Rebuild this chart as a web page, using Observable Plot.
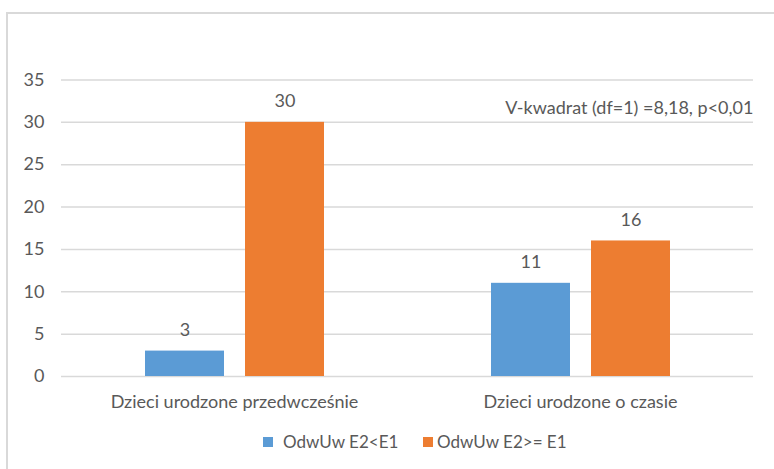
<!DOCTYPE html>
<html><head><meta charset="utf-8">
<script src="https://cdn.jsdelivr.net/npm/d3@7"></script>
<script src="https://cdn.jsdelivr.net/npm/@observablehq/plot@0.6"></script>
<style>
html,body{margin:0;padding:0;background:#fff;width:774px;height:469px;overflow:hidden;font-family:Lato,"Open Sans",sans-serif;}
#frame{position:absolute;left:6px;top:12px;width:800px;height:500px;border-left:2px solid #d9d9d9;border-top:2px solid #d9d9d9;}
#chart{position:absolute;left:0;top:0;}
#legend{position:absolute;top:432px;left:0;width:774px;height:20px;font-size:17px;color:#595959;}
.sw{position:absolute;top:5px;width:10px;height:10px;}
.lt{position:absolute;top:0;line-height:20px;white-space:nowrap;}
</style></head>
<body>
<div id="frame"></div>
<div id="chart"></div>
<div id="legend"></div>
<script>
const groups = ["Dzieci urodzone przedwcześnie", "Dzieci urodzone o czasie"];
const series = ["OdwUw E2<E1", "OdwUw E2>= E1"];
const valuesLow = [3, 11];
const valuesHigh = [30, 16];
const colors = ["#5B9BD5", "#ED7D31"];
const yTicks = [0, 5, 10, 15, 20, 25, 30, 35];
const annotation = "V-kwadrat (df=1) =8,18, p<0,01";

const data = [];
groups.forEach((g, i) => {
  data.push({group: g, series: series[0], value: valuesLow[i]});
  data.push({group: g, series: series[1], value: valuesHigh[i]});
});

const textColor = "#595959";
const fs = 18;
const plot = Plot.plot({
  width: 774,
  height: 420,
  marginLeft: 60,
  marginRight: 21,
  marginTop: 79.5,
  marginBottom: 44,
  style: {fontFamily: "Lato, 'Open Sans', sans-serif", fontSize: fs + "px", color: textColor, background: "transparent"},
  fx: {domain: groups, padding: 0},
  x: {domain: series, paddingInner: 0.21, paddingOuter: 0.83},
  y: {domain: [0, 35]},
  color: {domain: series, range: colors},
  marks: [
    Plot.gridY(yTicks, {stroke: "#d9d9d9", strokeOpacity: 1, strokeWidth: 1.5}),
    Plot.axisY(yTicks, {tickSize: 0, tickPadding: 17, fill: textColor, fontSize: fs, label: null}),
    Plot.axisFx({anchor: "bottom", tickSize: 0, tickPadding: 19, fill: textColor, fontSize: fs, label: null}),
    Plot.axisX({ticks: [], label: null, tickSize: 0}),
    Plot.barY(data, {fx: "group", x: "series", y: "value", fill: "series"}),
    Plot.text(data, {fx: "group", x: "series", y: "value", text: d => String(d.value), dy: -21, fill: textColor, fontSize: fs}),
    Plot.text([{group: groups[1], label: annotation}], {fx: "group", text: "label", frameAnchor: "top-right", lineAnchor: "middle", dy: 28.5, fill: textColor, fontSize: fs})
  ]
});
document.getElementById("chart").appendChild(plot);

const legend = document.getElementById("legend");
const swLefts = [263, 423];
const txtLefts = [283, 437];
series.forEach((s, i) => {
  const sw = document.createElement("span");
  sw.className = "sw";
  sw.style.left = swLefts[i] + "px";
  sw.style.background = colors[i];
  legend.appendChild(sw);
  const t = document.createElement("span");
  t.className = "lt";
  t.style.left = txtLefts[i] + "px";
  t.textContent = s;
  legend.appendChild(t);
});
</script>
</body></html>
